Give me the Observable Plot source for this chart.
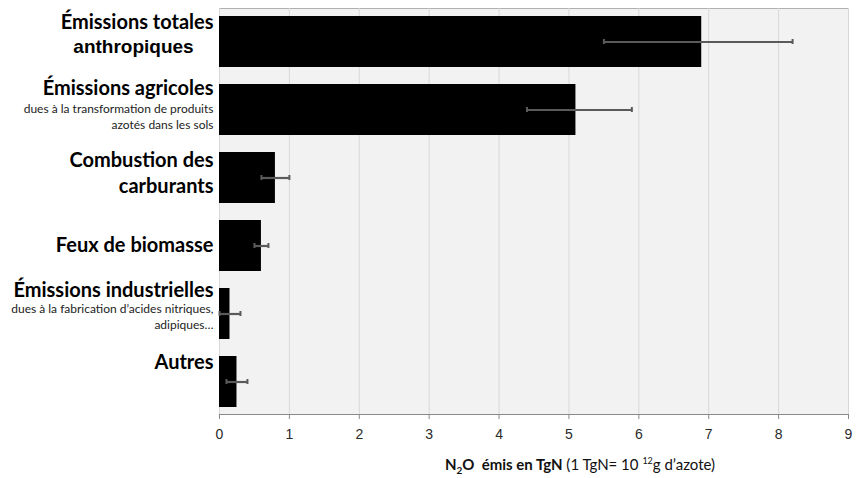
<!DOCTYPE html>
<html>
<head>
<meta charset="utf-8">
<script src="https://cdn.jsdelivr.net/npm/d3@7"></script>
<script src="https://cdn.jsdelivr.net/npm/@observablehq/plot@0.6"></script>
<style>
  html, body { margin: 0; padding: 0; background: #fff; }
  #chart svg { display: block; }
</style>
</head>
<body>
<div id="chart"></div>
<script>
// ---- data ----
const categories = ["totales", "agricoles", "combustion", "feux", "industrielles", "autres"];
const values  = [6.9, 5.1, 0.8, 0.6, 0.15, 0.25];
const errLow  = [5.5, 4.4, 0.6, 0.5, 0.0, 0.1];
const errHigh = [8.2, 5.9, 1.0, 0.7, 0.3, 0.4];
const titleLines = [
  ["Émissions totales", "anthropiques"],
  ["Émissions agricoles"],
  ["Combustion des", "carburants"],
  ["Feux de biomasse"],
  ["Émissions industrielles"],
  ["Autres"]
];
const subtitleLines = [
  [],
  ["dues à la transformation de produits", "azotés dans les sols"],
  [],
  [],
  ["dues à la fabrication d’acides nitriques,", "adipiques…"],
  []
];
const xTicks = [0, 1, 2, 3, 4, 5, 6, 7, 8, 9];

// ---- layout (label offsets relative to band centre, px) ----
const titleDy = [[-19, 5], [-21], [-17, 9], [0], [-23], [-19]];
const subDy = [[], [-1, 15], [], [], [-5, 11], []];

const bars = categories.map((c, i) => ({cat: c, value: values[i], lo: errLow[i], hi: errHigh[i]}));

const labels = [];
categories.forEach((c, i) => {
  titleLines[i].forEach((t, j) => {
    const second = (i === 0 && j === 1);
    labels.push({cat: c, text: t, dy: titleDy[i][j], kind: second ? "title2" : "title"});
  });
  subtitleLines[i].forEach((t, j) => {
    labels.push({cat: c, text: t, dy: subDy[i][j], kind: "sub"});
  });
});

const styles = {
  title: {frameAnchor: "left", dx: -6, textAnchor: "end",
          fontFamily: "Lato, sans-serif", fontWeight: "bold", fontSize: 20, fill: "#000"},
  title2: {frameAnchor: "left", dx: -86, textAnchor: "middle",
          fontFamily: "Liberation Sans, Arial, sans-serif", fontWeight: "bold", fontSize: 19, fill: "#000"},
  sub: {frameAnchor: "left", dx: -6, textAnchor: "end",
          fontFamily: "Lato, sans-serif", fontSize: 12, fill: "#222"}
};
const labelMarks = labels.map(d => Plot.text([d], {
  y: "cat", text: "text", dy: d.dy, lineAnchor: "middle", ...styles[d.kind]
}));

const W = 857, H = 478;
const chart = Plot.plot({
  width: W,
  height: H,
  marginLeft: 219,
  marginRight: 9,
  marginTop: 8,
  marginBottom: 64,
  style: {fontFamily: "Liberation Sans, Arial, sans-serif", background: "#fff"},
  x: {domain: [0, 9], ticks: xTicks, label: null},
  y: {domain: categories, paddingInner: 0.25, paddingOuter: 0.1, axis: null},
  marks: [
    Plot.frame({fill: "#f2f2f2", stroke: "#b0b0b0"}),
    Plot.gridX(xTicks, {stroke: "#d8d8d8", strokeOpacity: 1}),
    Plot.barX(bars, {x: "value", y: "cat", fill: "#000"}),
    Plot.ruleY(bars, {x1: "lo", x2: "hi", y: "cat", stroke: "#5a5a5a", strokeWidth: 2.2}),
    Plot.tickX(bars, {x: "lo", y: "cat", stroke: "#5a5a5a", strokeWidth: 2, insetTop: 23, insetBottom: 23}),
    Plot.tickX(bars, {x: "hi", y: "cat", stroke: "#5a5a5a", strokeWidth: 2, insetTop: 23, insetBottom: 23}),
    Plot.frame({anchor: "bottom", stroke: "#8a8a8a", strokeWidth: 1.2}),
    Plot.axisX({ticks: xTicks, tickSize: 5, tickPadding: 10, stroke: "#8a8a8a", fill: "#2a2a2a", fontSize: 14, label: null}),
    ...labelMarks
  ]
});
document.getElementById("chart").appendChild(chart);

// axis title with subscript / superscript
const svg = d3.select(chart);
const t = svg.append("text")
  .attr("x", 580).attr("y", 470)
  .attr("text-anchor", "middle")
  .attr("font-family", "Lato, sans-serif")
  .attr("font-size", 15)
  .attr("fill", "#111");
t.append("tspan").attr("font-weight", "bold").text("N");
t.append("tspan").attr("font-weight", "bold").attr("font-size", 10).attr("dy", 4).text("2");
t.append("tspan").attr("font-weight", "bold").attr("dy", -4).text("O\u00a0\u00a0émis en TgN");
t.append("tspan").text(" (1 TgN= 10 ");
t.append("tspan").attr("font-size", 9).attr("dy", -6).text("12");
t.append("tspan").attr("dy", 6).text("g d’azote)");
</script>
</body>
</html>
